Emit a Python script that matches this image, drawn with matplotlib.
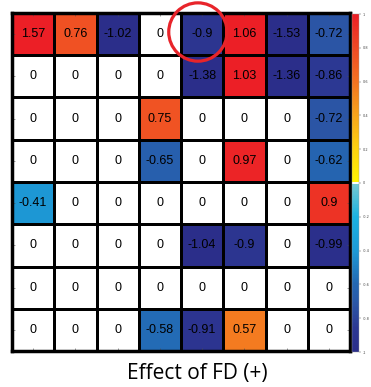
import numpy as np
import matplotlib
matplotlib.use("Agg")
import matplotlib.pyplot as plt
from matplotlib.colors import LinearSegmentedColormap, Normalize
from matplotlib.patches import Circle

# effect matrix (rows top -> bottom)
row0 = [1.57, 0.76, -1.02, 0, -0.9, 1.06, -1.53, -0.72]
row1 = [0, 0, 0, 0, -1.38, 1.03, -1.36, -0.86]
row2 = [0, 0, 0, 0.75, 0, 0, 0, -0.72]
row3 = [0, 0, 0, -0.65, 0, 0.97, 0, -0.62]
row4 = [-0.41, 0, 0, 0, 0, 0, 0, 0.9]
row5 = [0, 0, 0, 0, -1.04, -0.9, 0, -0.99]
row6 = [0, 0, 0, 0, 0, 0, 0, 0]
row7 = [0, 0, 0, -0.58, -0.91, 0.57, 0, 0]
title = "Effect of FD (+)"
highlight = (0, 4)
cbar_ticks = [-1, -0.8, -0.6, -0.4, -0.2, 0, 0.2, 0.4, 0.6, 0.8, 1]

data = np.array([row0, row1, row2, row3, row4, row5, row6, row7])
nr, nc = data.shape

cmap = LinearSegmentedColormap.from_list("fd", [
    (0.0, "#2b2e8a"),
    (0.07, "#2c3893"),
    (0.14, "#2b56a6"),
    (0.2, "#2367b2"),
    (0.3, "#1d9ad6"),
    (0.4, "#1bb2e2"),
    (0.495, "#74c8d2"),
    (0.4951, "#ffffff"),
    (0.5049, "#ffffff"),
    (0.505, "#fff200"),
    (0.6, "#fdd20f"),
    (0.7, "#f8a51b"),
    (0.8, "#f37321"),
    (0.9, "#ef4a24"),
    (1.0, "#ec1f26"),
])
norm = Normalize(vmin=-1, vmax=1)

fig = plt.figure(figsize=(3.71, 3.87), dpi=100)
W, H = 371, 387
ax = fig.add_axes([12 / W, (H - 351) / H, 338 / W, 338 / H])

ax.pcolormesh(np.arange(nc + 1), np.arange(nr + 1), data, cmap=cmap, norm=norm,
              edgecolors="black", linewidth=2.0)
ax.set_xlim(0, nc)
ax.set_ylim(nr, 0)
for s in ax.spines.values():
    s.set_linewidth(2.5)
ax.set_xticks(np.arange(nc) + 0.5)
ax.set_yticks(np.arange(nr) + 0.5)
ax.set_xticklabels([])
ax.set_yticklabels([])
ax.tick_params(direction="in", length=2, width=0.4, color="#555555",
               top=True, right=True)

for i in range(nr):
    for j in range(nc):
        v = data[i, j]
        ax.text(j + 0.5, i + 0.5, f"{v:g}", ha="center", va="center",
                fontsize=9, family=["Liberation Sans", "DejaVu Sans"], color="black")

hi, hj = highlight
ax.add_patch(Circle((hj + 0.4, hi + 0.45), 0.69, fill=False, edgecolor="#e8242a",
                    linewidth=2.3, clip_on=False, zorder=5))

cax = fig.add_axes([352 / W, (H - 352) / H, 7 / W, 338 / H])
cb = fig.colorbar(plt.cm.ScalarMappable(norm=norm, cmap=cmap), cax=cax, ticks=cbar_ticks)
cb.outline.set_linewidth(0.3)
cb.outline.set_edgecolor("#999999")
cax.tick_params(labelsize=2.5, length=1.5, width=0.3, pad=1, colors="#444444")
cax.set_yticklabels([f"{t:g}" for t in cbar_ticks])

fig.text(197 / W, 1 - 373 / H, title, ha="center", va="center", fontsize=15,
         family=["Open Sans", "DejaVu Sans"])

fig.savefig("out.png", dpi=100)
